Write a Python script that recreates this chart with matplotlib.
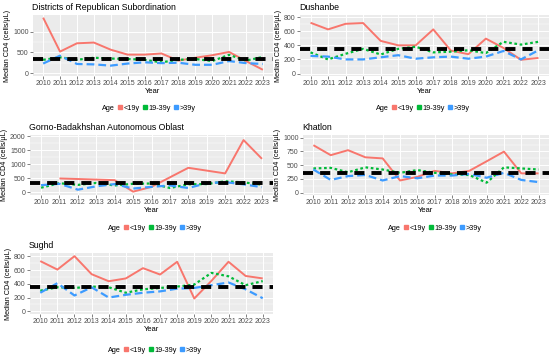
import matplotlib

matplotlib.use("Agg")

import matplotlib.pyplot as plt
import numpy as np
from matplotlib.lines import Line2D
from matplotlib.ticker import FixedLocator

plt.rcParams["font.family"] = ["Liberation Sans", "DejaVu Sans"]

nan = np.nan
years = [str(y) for y in range(2010, 2024)]
years_gbao = [str(y) for y in range(2010, 2020)] + ["2021", "2022", "2023"]

drs_u19 = [1336, 518, 718, 736, 564, 445, 445, 473, 300, 370, 430, 510, 290, 80]
drs_1939 = [320, 380, 320, 370, 350, 340, 320, 260, 320, 340, 290, 440, 300, 390]
drs_o39 = [230, 420, 220, 210, 180, 230, 260, 240, 250, 200, 200, 290, 240, 220]

dush_u19 = [720, 626, 705, 716, 463, 400, 400, 626, 326, 274, 495, 363, 195, 221]
dush_1939 = [300, 200, 280, 350, 270, 350, 380, 300, 310, 330, 290, 450, 410, 450]
dush_o39 = [250, 240, 200, 200, 230, 260, 210, 230, 240, 210, 240, 320, 200, 330]

gbao_u19 = [nan, 500, 480, 460, 440, 30, 200, 540, 880, 780, 680, 1870, 1200]
gbao_1939 = [170, 330, 270, 340, 250, 310, 320, 160, 290, 300, 400, 360, 280]
gbao_o39 = [260, 310, 100, 220, 300, 140, 200, 250, 160, 330, 370, 290, 190]

khat_u19 = [864, 682, 773, 643, 623, 220, 286, 396, 350, 396, 570, 747, 350, 350]
khat_1939 = [440, 450, 370, 460, 420, 360, 410, 360, 330, 320, 180, 460, 440, 420]
khat_o39 = [420, 230, 300, 320, 220, 300, 260, 310, 310, 340, 270, 360, 230, 190]

sugh_u19 = [732, 608, 804, 541, 438, 479, 629, 536, 722, 186, 443, 722, 515, 479]
sugh_1939 = [300, 350, 340, 360, 350, 270, 320, 340, 360, 390, 560, 510, 380, 440]
sugh_o39 = [270, 410, 230, 350, 200, 240, 270, 290, 330, 340, 380, 420, 320, 190]

threshold = 350
age_labels = ["<19y", "19-39y", ">39y"]

W, H = 550, 356
C_RED, C_GREEN, C_BLUE = "#F8766D", "#00BA38", "#3D9BFF"


def frac(x0, y0, x1, y1):
    return [x0 / W, 1 - y1 / H, (x1 - x0) / W, (y1 - y0) / H]


def panel(fig, box, title, cats, u19, a1939, o39, yticks, ylim, legend_xy):
    ax = fig.add_axes(frac(*box))
    ax.set_facecolor("#EBEBEB")
    x = np.arange(len(cats))
    ax.plot(x, u19, color=C_RED, lw=1.4, solid_capstyle="butt", zorder=3)
    ax.plot(x, a1939, color=C_GREEN, lw=1.6, dashes=(1.2, 1.2), zorder=3)
    ax.plot(x, o39, color=C_BLUE, lw=1.6, dashes=(3.5, 1.8), zorder=3)
    ax.axhline(threshold, color="black", lw=2.8, dashes=(2.6, 1.8), zorder=4)

    ax.set_xlim(-0.6, len(cats) - 0.4)
    ax.set_ylim(*ylim)
    ax.set_xticks(x)
    ax.set_xticklabels(cats)
    ax.set_yticks(yticks)
    minor = [(a + b) / 2 for a, b in zip(yticks[:-1], yticks[1:])]
    ax.yaxis.set_minor_locator(FixedLocator(minor))
    ax.grid(True, which="major", color="white", lw=0.7)
    ax.grid(True, which="minor", axis="y", color="white", lw=0.35)
    ax.set_axisbelow(True)
    for s in ax.spines.values():
        s.set_visible(False)
    ax.tick_params(axis="both", which="major", labelsize=5, colors="#4D4D4D",
                   length=2, width=0.5, pad=1.2)
    ax.tick_params(axis="both", which="minor", length=0)
    ax.set_xlabel("Year", fontsize=5.5, labelpad=0.5)
    ax.set_ylabel("Median CD4 (cells/\u03bcL)", fontsize=5.2, labelpad=1.5)
    ax.set_title(title, fontsize=6.3, loc="left", pad=3.5, x=-0.005)

    handles = [Line2D([], [], color="none")]
    handles += [Line2D([], [], color=c, lw=2.5, marker="s", ms=3, ls="none")
                for c in (C_RED, C_GREEN, C_BLUE)]
    fig.legend(handles=handles, labels=["Age"] + age_labels, ncol=4,
               loc="center", bbox_to_anchor=(legend_xy[0] / W, 1 - legend_xy[1] / H),
               frameon=False, fontsize=5.2, handlelength=0.5, handletextpad=0.3,
               columnspacing=0.4, borderpad=0)
    return ax


fig = plt.figure(figsize=(5.5, 3.56), dpi=100)

panel(fig, (33, 15, 273, 76), "Districts of Republican Subordination", years,
      drs_u19, drs_1939, drs_o39, [0, 500, 1000], (-70, 1400), (146, 108))
panel(fig, (300, 15, 549, 76), "Dushanbe", years,
      dush_u19, dush_1939, dush_o39, [0, 200, 400, 600, 800], (-35, 830), (420, 108))
panel(fig, (30, 135, 273, 195), "Gorno-Badakhshan Autonomous Oblast", years_gbao,
      gbao_u19, gbao_1939, gbao_o39, [0, 500, 1000, 1500, 2000], (-90, 2050), (152, 228))
panel(fig, (303, 135, 549, 195), "Khatlon", years,
      khat_u19, khat_1939, khat_o39, [0, 250, 500, 750, 1000], (-45, 1050), (432, 228))
panel(fig, (30, 253, 273, 314), "Sughd", years,
      sugh_u19, sugh_1939, sugh_o39, [0, 200, 400, 600, 800], (-40, 850), (152, 350))

fig.savefig("out.png", dpi=100)
